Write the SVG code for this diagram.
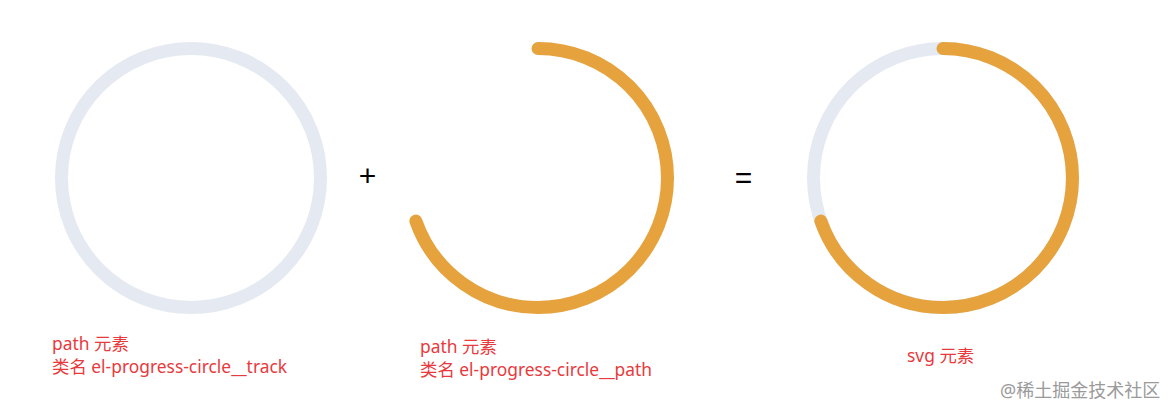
<svg xmlns="http://www.w3.org/2000/svg" width="1175" height="415" viewBox="0 0 1175 415">
<style>
.track{fill:none;stroke:#e5e9f2;stroke-width:13}
.bar{fill:none;stroke:#e6a23c;stroke-width:13;stroke-linecap:round}
.lbl{font-family:"Noto Sans","Noto Sans CJK SC",sans-serif;font-size:17.4px;fill:#e8393c}
.op{font-family:"Liberation Sans",sans-serif;font-size:30px;fill:#000;text-anchor:middle}
.wm{font-family:"Noto Sans","Noto Sans CJK SC",sans-serif;font-size:18px;fill:#9a9a9a}
</style>
<rect width="1175" height="415" fill="#fff"/>
<g id="track-node">
<circle class="track" cx="191" cy="178" r="129.5"/>
<text class="lbl" x="52" y="350">path 元素</text>
<text class="lbl" x="52" y="373">类名 el-progress-circle__track</text>
</g>
<g id="path-node">
<circle class="bar" cx="538" cy="178" r="129.5" pathLength="100" stroke-dasharray="69.6 200" transform="rotate(-90 538 178)"/>
<text class="lbl" x="420" y="353">path 元素</text>
<text class="lbl" x="420" y="376">类名 el-progress-circle__path</text>
</g>
<g id="svg-node">
<circle class="track" cx="943" cy="178" r="129.5"/>
<circle class="bar" cx="943" cy="178" r="129.5" pathLength="100" stroke-dasharray="69.6 200" transform="rotate(-90 943 178)"/>
<text class="lbl" x="907" y="362">svg 元素</text>
</g>
<g id="connectors">
<text class="op" x="367.5" y="186">+</text>
<text class="op" x="743.5" y="188">=</text>
</g>
<text class="wm" x="1000" y="397">@稀土掘金技术社区</text>
</svg>
